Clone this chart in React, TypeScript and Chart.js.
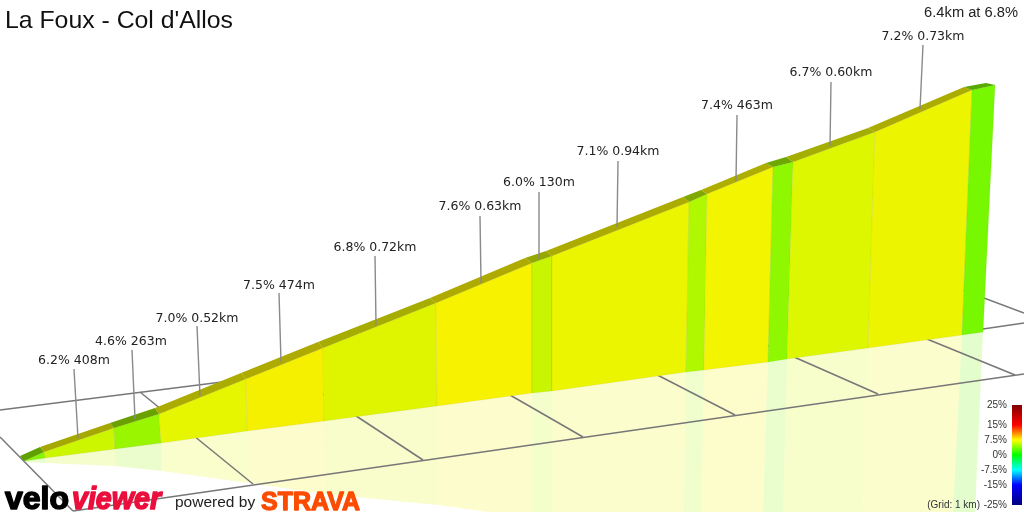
import { useEffect, useRef } from 'react';
import { Chart, registerables } from 'chart.js';

Chart.register(...registerables);

// wall of the climb, one entry per section boundary
const ridgeX = [24, 44, 114, 159, 246, 323, 436, 532, 552, 689, 707, 773, 793, 875, 972, 995];
const ridgeY = [461, 452, 428, 414, 379, 348, 303, 263, 256, 202, 194, 167, 162, 132, 90, 85];
const crestX = [20, 40, 110, 155, 241, 318, 430, 525, 546, 683, 701, 766, 786, 868, 964, 986];
const crestY = [456, 447, 423, 408, 373, 342, 298, 258, 251, 197, 190, 163, 157, 128, 87, 83];
const baseX = [24, 45, 115, 161, 247, 324, 437, 532, 552, 686, 704, 768, 787, 868, 962, 983];
const baseY = [461, 458, 449, 443, 431, 421, 406, 393, 391, 372, 370, 362, 359, 348, 335, 332];
const mirrorX = [25, 45, 115, 162, 248, 325, 438, 532, 552, 684, 701, 763, 783, 862, 953, 975];
const mirrorY = [462, 463, 466, 471, 483, 494, 505, 518, 521, 513, 513, 513, 513, 513, 513, 513];

const sectionColors = [
  '#86f500', '#ccf500', '#99f500', '#e6f500', '#f5f000', '#dff500', '#f7f200', '#c8f500',
  '#ebf500', '#b0f800', '#f3f400', '#8ff800', '#dcf700', '#edf400', '#77f700',
];
const crestColors = [
  '#62a000', '#a4a800', '#6aa000', '#acac00', '#aeaa00', '#a6ac00', '#aeaa00', '#94a800',
  '#acac00', '#80a800', '#aeae00', '#6ca800', '#a4ae00', '#acac00', '#58a800',
];

// floor grid
const gridLinesX = [
  [0, 230], [73, 1024], [983, 1024], [0, 73], [140, 253], [300, 423], [470, 583], [640, 735],
  [760, 878], [900, 1015], [960, 1024],
];
const gridLinesY = [
  [410, 381], [511, 374], [329, 323], [437, 511], [392, 484], [379, 460], [372, 437], [366, 415],
  [342, 394], [328, 375], [289, 313],
];

const sectionLabels = [
  '6.2% 408m', '4.6% 263m', '7.0% 0.52km', '7.5% 474m', '6.8% 0.72km', '7.6% 0.63km',
  '6.0% 130m', '7.1% 0.94km', '7.4% 463m', '6.7% 0.60km', '7.2% 0.73km',
];
const labelX = [74, 131, 197, 279, 375, 480, 539, 618, 737, 831, 923];
const labelY = [361, 342, 319, 286, 248, 207, 183, 152, 106, 73, 37];
const leaderTopX = [74, 132, 197, 279, 375, 480, 539, 618, 737, 831, 923];
const leaderTopY = [369, 350, 326, 293, 256, 216, 192, 161, 115, 82, 45];
const leaderEndX = [78, 135, 200, 281, 376, 481, 539, 617, 736, 830, 920];
const leaderEndY = [438, 419, 396, 362, 325, 283, 259, 227, 181, 146, 109];

const legendValues = [25, 15, 7.5, 0, -7.5, -15, -25];
const legendTicks = ['25%', '15%', '7.5%', '0%', '-7.5%', '-15%', '-25%'];
const legendStops = ['#7f0000', '#ff0000', '#ffff00', '#00ff00', '#00ffff', '#0000ff', '#00007f'];

const title = 'La Foux - Col d\'Allos';
const summary = '6.4km at 6.8%';
const gridNote = '(Grid: 1 km)';

const hexToAlpha = (hex: string, a: number) => {
  const n = parseInt(hex.slice(1), 16);
  return `rgba(${n >> 16},${(n >> 8) & 255},${n & 255},${a})`;
};

const poly = (xs: number[], ys: number[]) => [...xs, xs[0]].map((x, i) => ({ x, y: [...ys, ys[0]][i] }));

const shape = (data: any[], color: string, edge = 'transparent') => ({
  data,
  showLine: true,
  fill: 'shape',
  backgroundColor: color,
  borderColor: edge,
  borderWidth: edge === 'transparent' ? 0 : 1,
  pointRadius: 0,
  tension: 0,
});

const line = (data: any[], color: string, width: number) => ({
  data,
  showLine: true,
  fill: false,
  borderColor: color,
  borderWidth: width,
  pointRadius: 0,
  tension: 0,
});

function buildDatasets() {
  const sets: any[] = [];
  sectionColors.forEach((c, i) => {
    sets.push(shape(
      poly([baseX[i], baseX[i + 1], mirrorX[i + 1], mirrorX[i]], [baseY[i], baseY[i + 1], mirrorY[i + 1], mirrorY[i]]),
      hexToAlpha(c, 0.2),
    ));
  });
  gridLinesX.forEach((xs, i) => {
    sets.push(line(poly(xs, gridLinesY[i]).slice(0, 2), '#777777', 1.5));
  });
  sectionColors.forEach((c, i) => {
    sets.push(shape(
      poly([ridgeX[i], ridgeX[i + 1], baseX[i + 1], baseX[i]], [ridgeY[i], ridgeY[i + 1], baseY[i + 1], baseY[i]]),
      c,
      hexToAlpha(crestColors[i], 0.14),
    ));
  });
  crestColors.forEach((c, i) => {
    sets.push(shape(
      poly([crestX[i], crestX[i + 1], ridgeX[i + 1], ridgeX[i]], [crestY[i], crestY[i + 1], ridgeY[i + 1], ridgeY[i]]),
      c,
    ));
  });
  sectionLabels.forEach((_, i) => {
    sets.push(line(
      [{ x: leaderTopX[i], y: leaderTopY[i] }, { x: leaderEndX[i], y: leaderEndY[i] }],
      '#8a8a8a',
      1.4,
    ));
  });
  // colour key, on its own grade scale
  const key: any = shape(
    poly([1012, 1022, 1022, 1012], [legendValues[0], legendValues[0], legendValues[6], legendValues[6]]),
    '#000000',
  );
  key.yAxisID = 'grade';
  key.backgroundColor = (ctx: any) => {
    const scale = ctx.chart.scales.grade;
    const top = scale ? scale.getPixelForValue(legendValues[0]) : NaN;
    const bottom = scale ? scale.getPixelForValue(legendValues[6]) : NaN;
    if (!Number.isFinite(top) || !Number.isFinite(bottom)) return '#000000';
    const g = ctx.chart.ctx.createLinearGradient(0, top, 0, bottom);
    legendValues.forEach((v, i) => {
      g.addColorStop((legendValues[0] - v) / (legendValues[0] - legendValues[6]), legendStops[i]);
    });
    return g;
  };
  sets.push(key);
  // first in the list is painted first
  return sets.map((s, i) => ({ ...s, order: sets.length - i }));
}

const textPlugin = {
  id: 'sceneText',
  afterDraw(chart: any) {
    const { ctx, scales } = chart;
    const px = (v: number) => scales.x.getPixelForValue(v);
    const py = (v: number) => scales.y.getPixelForValue(v);
    ctx.save();
    ctx.textBaseline = 'alphabetic';

    ctx.fillStyle = '#111111';
    ctx.textAlign = 'left';
    ctx.font = '24.8px "Liberation Sans"';
    ctx.fillText(title, px(5), py(28));

    ctx.fillStyle = '#222222';
    ctx.font = '14.7px "Liberation Sans"';
    ctx.textAlign = 'right';
    ctx.fillText(summary, px(1018), py(17));

    ctx.font = '12.5px "DejaVu Sans"';
    ctx.textAlign = 'center';
    ctx.textBaseline = 'middle';
    sectionLabels.forEach((t, i) => ctx.fillText(t, px(labelX[i]), py(labelY[i])));

    ctx.fillStyle = '#333333';
    ctx.font = '10px "Liberation Sans"';
    ctx.textAlign = 'right';
    legendTicks.forEach((t, i) => {
      ctx.fillText(t, px(1007), scales.grade.getPixelForValue(legendValues[i]));
    });
    ctx.fillText(gridNote, px(980), scales.grade.getPixelForValue(legendValues[6]));

    // logos
    ctx.textAlign = 'left';
    ctx.textBaseline = 'alphabetic';
    ctx.lineJoin = 'round';
    ctx.fillStyle = '#000000';
    ctx.strokeStyle = '#000000';
    ctx.lineWidth = 1.6;
    ctx.font = 'bold 32px "Liberation Sans"';
    ctx.fillText('velo', px(5), py(508.5), 66);
    ctx.strokeText('velo', px(5), py(508.5), 66);
    ctx.fillStyle = '#ea0f3c';
    ctx.strokeStyle = '#ea0f3c';
    ctx.font = 'italic bold 32px "Liberation Sans"';
    ctx.fillText('viewer', px(72), py(508.5), 89);
    ctx.strokeText('viewer', px(72), py(508.5), 89);

    ctx.fillStyle = '#222222';
    ctx.font = '15.5px "Liberation Sans"';
    ctx.fillText('powered by', px(175), py(507));

    ctx.fillStyle = '#fc4c02';
    ctx.strokeStyle = '#fc4c02';
    ctx.lineWidth = 1.3;
    ctx.font = 'bold 26px "Liberation Sans"';
    ctx.fillText('STRAVA', px(261), py(510), 99);
    ctx.strokeText('STRAVA', px(261), py(510), 99);
    ctx.restore();
  },
};

export default function App() {
  const canvasRef = useRef<HTMLCanvasElement>(null);

  useEffect(() => {
    document.body.style.margin = '0';
    if (!canvasRef.current) return;
    const chart = new Chart(canvasRef.current, {
      type: 'scatter',
      data: { datasets: buildDatasets() },
      options: {
        responsive: false,
        animation: false,
        devicePixelRatio: 1,
        layout: { padding: 0 },
        plugins: { legend: { display: false }, tooltip: { enabled: false } },
        scales: {
          x: { type: 'linear', display: false, min: 0, max: 1024 },
          y: { type: 'linear', display: false, min: 0, max: 512, reverse: true },
          // 2px per percent, 0% sits at 455
          grade: { type: 'linear', axis: 'y', display: false, min: -28.5, max: 227.5 },
        },
      },
      plugins: [textPlugin],
    } as any);

    return () => chart.destroy();
  }, []);

  return <canvas ref={canvasRef} width={1024} height={512} style={{ display: 'block' }} />;
}
